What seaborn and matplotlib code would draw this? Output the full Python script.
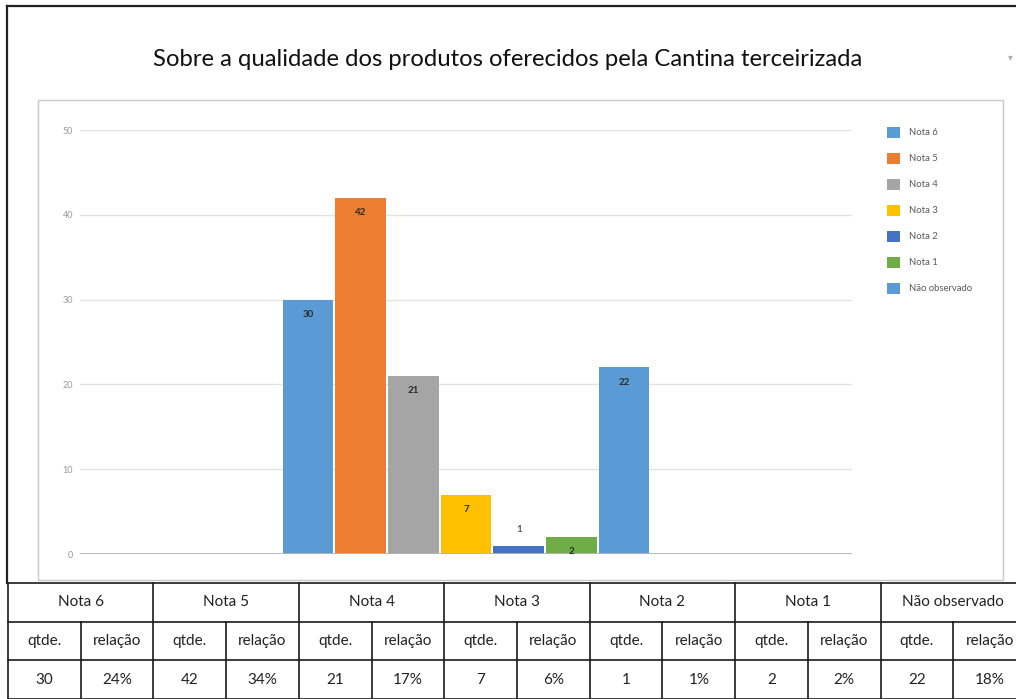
import matplotlib
matplotlib.use("Agg")
import matplotlib.pyplot as plt
import seaborn as sns
import pandas as pd
from matplotlib.lines import Line2D
from matplotlib.patches import Rectangle

# data
notas = ["Nota 6", "Nota 5", "Nota 4", "Nota 3", "Nota 2", "Nota 1", "Não observado"]
qtde = [30, 42, 21, 7, 1, 2, 22]
relacao = ["24%", "34%", "17%", "6%", "1%", "2%", "18%"]
cores = ["#5B9BD5", "#ED7D31", "#A5A5A5", "#FFC000", "#4472C4", "#70AD47", "#5B9BD5"]
y_ticks = [0, 10, 20, 30, 40, 50]

titulo = "Sobre a qualidade dos produtos oferecidos pela Cantina terceirizada"

plt.rcParams["font.family"] = ["Lato", "DejaVu Sans"]

df = pd.DataFrame({"grupo": [""] * len(notas), "nota": notas, "qtde": qtde})
W, H = 1016, 699
fig = plt.figure(figsize=(W / 100, H / 100), dpi=100)

# outer frame and chart box
fig.add_artist(Line2D([7 / W, 1], [1 - 6 / H, 1 - 6 / H], color="#222222", lw=1.6))
fig.add_artist(Line2D([7 / W, 7 / W], [1 - 6 / H, 1 - 583 / H], color="#222222", lw=1.6))
fig.add_artist(Rectangle((38 / W, 1 - 580 / H), 965 / W, 480 / H, fill=False,
                         edgecolor="#c8c8c8", lw=1.0))

fig.text(0.5, 1 - 60 / H, titulo, ha="center", va="center", fontsize=17.2,
         color="#111111")
fig.text(1010 / W, 1 - 57 / H, "▾", ha="center", va="center", fontsize=7, color="#b0b0b0",
         family=["DejaVu Sans"])

# bar chart
ax = fig.add_axes([80 / W, 1 - 554 / H, 772 / W, 424 / H])
sns.barplot(data=df, x="grupo", y="qtde", hue="nota", hue_order=notas,
            palette=dict(zip(notas, cores)), width=0.478, gap=0.04,
            saturation=1, ax=ax)
ax.set_xlim(-0.5, 0.5)
ax.set_ylim(0, 50)
ax.set_yticks(y_ticks)
ax.set_yticklabels([str(t) for t in y_ticks], fontsize=6.5, color="#9a9a9a")
ax.tick_params(axis="y", length=0, pad=5)
ax.set_xticks([])
ax.set_xlabel("")
ax.set_ylabel("")
for s in ax.spines.values():
    s.set_visible(False)
ax.grid(axis="y", color="#e3e3e3", lw=1)
ax.set_axisbelow(True)
ax.axhline(0, color="#b5b5b5", lw=2, zorder=3)

for cont, v in zip(ax.containers, qtde):
    pad = -14 if v >= 2 else 8
    ax.bar_label(cont, labels=[str(v)], padding=pad, fontsize=7, fontweight="bold",
                 color="#2b2b2b" if v >= 2 else "#595959")

sns.move_legend(ax, "upper left", bbox_to_anchor=(882 / W, 1 - 122 / H),
                bbox_transform=fig.transFigure, frameon=False, title=None,
                fontsize=6.8, labelspacing=1.6, handlelength=1.4, handleheight=1.4,
                handletextpad=1.0, borderpad=0, labelcolor="#595959")

# table under the chart
tax = fig.add_axes([8 / W, 0, 1018 / W, 116 / H])
tax.set_xlim(0, 14)
tax.set_ylim(0, 3)
tax.axis("off")
lc = "#1a1a1a"
for yy in [0, 1, 2, 3]:
    tax.plot([0, 14], [yy, yy], color=lc, lw=1.2, clip_on=False)
for xx in range(15):
    top = 3 if xx % 2 == 0 else 2
    tax.plot([xx, xx], [0, top], color=lc, lw=1.2, clip_on=False)
for i, nota in enumerate(notas):
    x0 = 2 * i
    tax.text(x0 + 1, 2.5, nota, ha="center", va="center", fontsize=11, color="#222222")
    tax.text(x0 + 0.5, 1.5, "qtde.", ha="center", va="center", fontsize=11, color="#222222")
    tax.text(x0 + 1.5, 1.5, "relação", ha="center", va="center", fontsize=11, color="#222222")
    tax.text(x0 + 0.5, 0.5, str(qtde[i]), ha="center", va="center", fontsize=11, color="#222222")
    tax.text(x0 + 1.5, 0.5, relacao[i], ha="center", va="center", fontsize=11, color="#222222")

fig.savefig("out.png", dpi=100)
